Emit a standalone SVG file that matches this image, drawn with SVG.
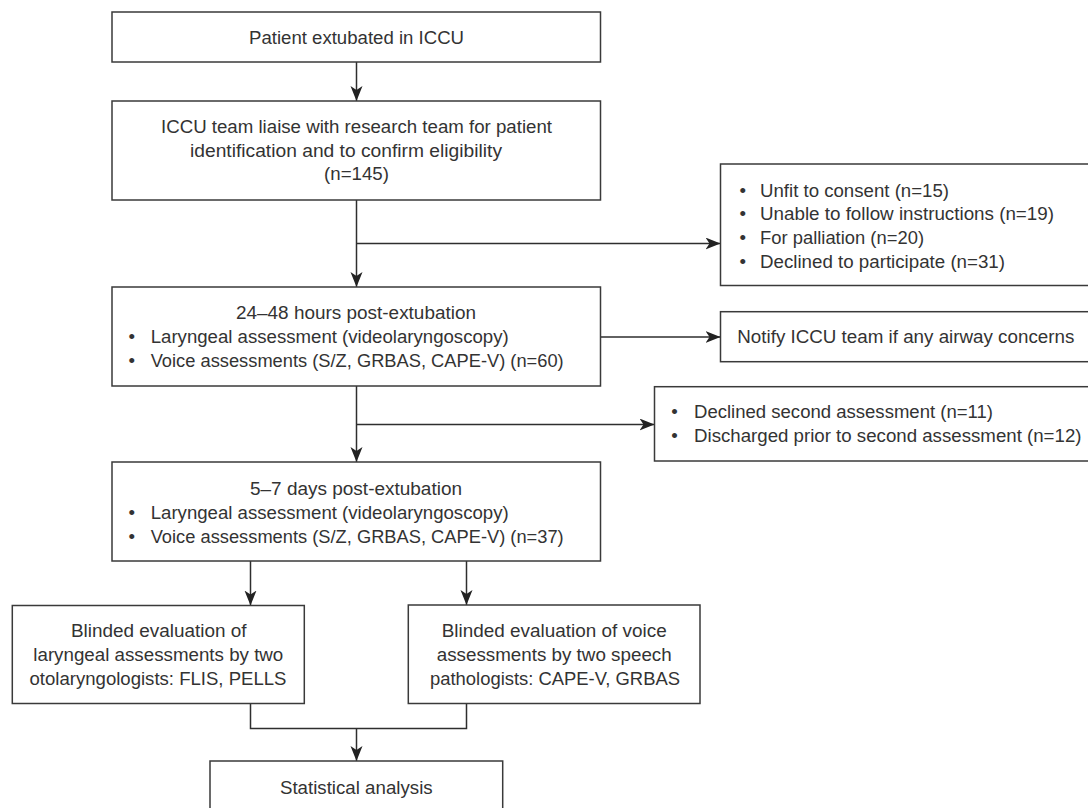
<svg xmlns="http://www.w3.org/2000/svg" width="1088" height="808" viewBox="0 0 1088 808">
<style>
.box{fill:#fff;stroke:#3a3a3a;stroke-width:1.5}
.ln{fill:none;stroke:#2e2e2e;stroke-width:1.5}
text{font-family:"Liberation Sans",Arial,sans-serif;font-size:18.7px;fill:#333}
.c{text-anchor:middle}
.b{text-anchor:middle}
</style>
<defs>
<marker id="ah" markerUnits="userSpaceOnUse" markerWidth="16" markerHeight="14" refX="15" refY="6" orient="auto">
<path d="M0,0 L15,6 L0,12 L4,6 Z" fill="#222"/>
</marker>
</defs>
<rect width="1088" height="808" fill="#fff"/>
<g id="connectors">
<line class="ln" x1="356.5" y1="62" x2="356.5" y2="101" marker-end="url(#ah)"/>
<line class="ln" x1="356.5" y1="200" x2="356.5" y2="287" marker-end="url(#ah)"/>
<line class="ln" x1="356.5" y1="243.5" x2="720.5" y2="243.5" marker-end="url(#ah)"/>
<line class="ln" x1="600.5" y1="337" x2="720.5" y2="337" marker-end="url(#ah)"/>
<line class="ln" x1="356.5" y1="386" x2="356.5" y2="462" marker-end="url(#ah)"/>
<line class="ln" x1="356.5" y1="424.5" x2="654.5" y2="424.5" marker-end="url(#ah)"/>
<line class="ln" x1="250.5" y1="561" x2="250.5" y2="605.5" marker-end="url(#ah)"/>
<line class="ln" x1="466.5" y1="561" x2="466.5" y2="605" marker-end="url(#ah)"/>
<polyline class="ln" points="250.5,703.5 250.5,728.5 466.5,728.5 466.5,703.5"/>
<line class="ln" x1="356.5" y1="728.5" x2="356.5" y2="761" marker-end="url(#ah)"/>
</g>
<g id="n1">
<rect class="box" x="112" y="12" width="488.5" height="50"/>
<text class="c" x="356.5" y="44" textLength="215" lengthAdjust="spacingAndGlyphs">Patient extubated in ICCU</text>
</g>
<g id="n2">
<rect class="box" x="112" y="101" width="488.5" height="99"/>
<text class="c" x="356.5" y="133" textLength="391" lengthAdjust="spacingAndGlyphs">ICCU team liaise with research team for patient</text>
<text class="c" x="346" y="156.5" textLength="312" lengthAdjust="spacingAndGlyphs">identification and to confirm eligibility</text>
<text class="c" x="356.5" y="180">(n=145)</text>
</g>
<g id="n_excl1">
<rect class="box" x="720.5" y="164" width="380" height="121.5"/>
<text class="b" x="742.7" y="196.5">•</text>
<text x="760" y="196.5" textLength="189" lengthAdjust="spacingAndGlyphs">Unfit to consent (n=15)</text>
<text class="b" x="742.7" y="220.3">•</text>
<text x="760" y="220.3" textLength="294" lengthAdjust="spacingAndGlyphs">Unable to follow instructions (n=19)</text>
<text class="b" x="742.7" y="244.2">•</text>
<text x="760" y="244.2" textLength="164" lengthAdjust="spacingAndGlyphs">For palliation (n=20)</text>
<text class="b" x="742.7" y="268">•</text>
<text x="760" y="268" textLength="245" lengthAdjust="spacingAndGlyphs">Declined to participate (n=31)</text>
</g>
<g id="n3">
<rect class="box" x="112" y="287" width="488.5" height="99"/>
<text class="c" x="356" y="319" textLength="240" lengthAdjust="spacingAndGlyphs">24–48 hours post-extubation</text>
<text class="b" x="131.7" y="343.3">•</text>
<text x="150.7" y="343.3" textLength="358" lengthAdjust="spacingAndGlyphs">Laryngeal assessment (videolaryngoscopy)</text>
<text class="b" x="131.7" y="367.3">•</text>
<text x="150.7" y="367.3" textLength="413" lengthAdjust="spacingAndGlyphs">Voice assessments (S/Z, GRBAS, CAPE-V) (n=60)</text>
</g>
<g id="n_notify">
<rect class="box" x="720.5" y="311.7" width="380" height="50"/>
<text x="737.3" y="343.3" textLength="337" lengthAdjust="spacingAndGlyphs">Notify ICCU team if any airway concerns</text>
</g>
<g id="n_excl2">
<rect class="box" x="654.5" y="386.7" width="450" height="74.3"/>
<text class="b" x="674.5" y="418.3">•</text>
<text x="694" y="418.3" textLength="299" lengthAdjust="spacingAndGlyphs">Declined second assessment (n=11)</text>
<text class="b" x="674.5" y="441.7">•</text>
<text x="694" y="441.7" textLength="387.5" lengthAdjust="spacingAndGlyphs">Discharged prior to second assessment (n=12)</text>
</g>
<g id="n4">
<rect class="box" x="112" y="462" width="488.5" height="99"/>
<text class="c" x="356" y="495" textLength="212" lengthAdjust="spacingAndGlyphs">5–7 days post-extubation</text>
<text class="b" x="131.7" y="519.3">•</text>
<text x="150.7" y="519.3" textLength="358" lengthAdjust="spacingAndGlyphs">Laryngeal assessment (videolaryngoscopy)</text>
<text class="b" x="131.7" y="543.3">•</text>
<text x="150.7" y="543.3" textLength="413" lengthAdjust="spacingAndGlyphs">Voice assessments (S/Z, GRBAS, CAPE-V) (n=37)</text>
</g>
<g id="n5">
<rect class="box" x="12.3" y="605.5" width="292" height="98"/>
<text class="c" x="158.8" y="637.3" textLength="175.7" lengthAdjust="spacingAndGlyphs">Blinded evaluation of</text>
<text class="c" x="158.3" y="661" textLength="250" lengthAdjust="spacingAndGlyphs">laryngeal assessments by two</text>
<text class="c" x="158" y="684.7" textLength="257" lengthAdjust="spacingAndGlyphs">otolaryngologists: FLIS, PELLS</text>
</g>
<g id="n6">
<rect class="box" x="408.3" y="605" width="291.7" height="98.5"/>
<text class="c" x="554.2" y="637.3" textLength="225" lengthAdjust="spacingAndGlyphs">Blinded evaluation of voice</text>
<text class="c" x="554.2" y="661" textLength="235" lengthAdjust="spacingAndGlyphs">assessments by two speech</text>
<text class="c" x="555" y="684.7" textLength="250" lengthAdjust="spacingAndGlyphs">pathologists: CAPE-V, GRBAS</text>
</g>
<g id="n7">
<rect class="box" x="210" y="761" width="292.7" height="70"/>
<text class="c" x="356.3" y="794" textLength="152.7" lengthAdjust="spacingAndGlyphs">Statistical analysis</text>
</g>
</svg>
